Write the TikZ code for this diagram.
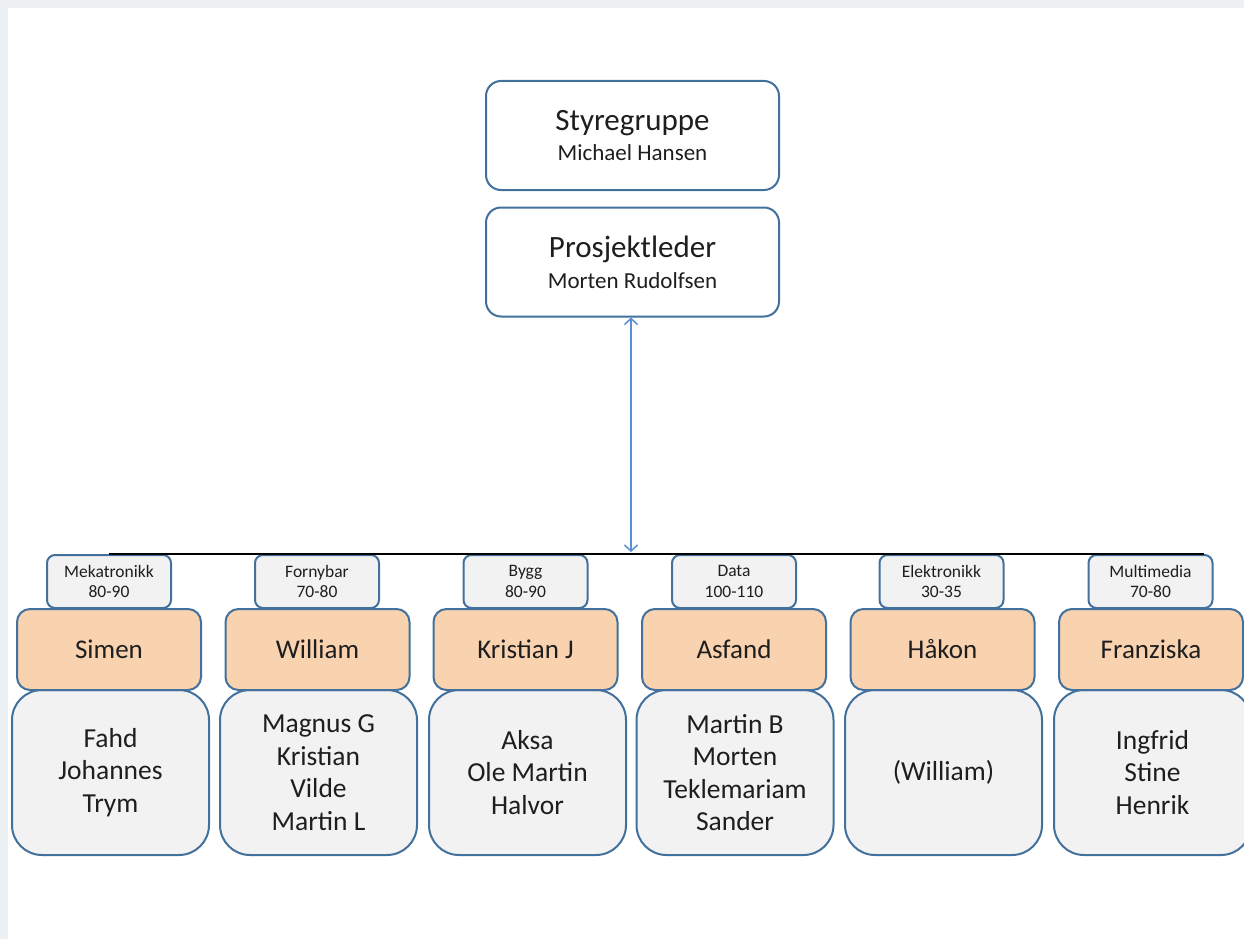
\documentclass[tikz,border=0pt]{standalone}
\usepackage{fontspec}
\setmainfont{Carlito}
\usetikzlibrary{arrows.meta}
\definecolor{bordblue}{HTML}{41719C}
\definecolor{arrblue}{HTML}{5B8FD4}
\definecolor{orangefill}{HTML}{F9D2B0}
\definecolor{grayfill}{HTML}{F2F2F2}
\definecolor{framegray}{HTML}{EDF1F4}
\definecolor{txt}{HTML}{1E1E1E}
\tikzset{
  topbox/.style={draw=bordblue, line width=2pt, fill=white, rounded corners=15pt,
    minimum width=293pt, minimum height=109pt, align=center, text=txt, inner sep=0pt},
  labelbox/.style={draw=bordblue, line width=2pt, fill=grayfill, rounded corners=8pt,
    minimum width=124pt, minimum height=53pt, align=center, text=txt, inner sep=0pt,
    font=\fontsize{17.5}{20.5}\selectfont},
  leadbox/.style={draw=bordblue, line width=2pt, fill=orangefill, rounded corners=13pt,
    minimum width=184pt, minimum height=81pt, align=center, text=txt, inner sep=0pt,
    font=\fontsize{27}{32}\selectfont},
  teambox/.style={draw=bordblue, line width=2pt, fill=grayfill, rounded corners=30pt,
    minimum width=197pt, minimum height=165pt, align=center, text=txt, inner sep=0pt,
    font=\fontsize{27.5}{32.5}\selectfont},
  linkarrow/.style={draw=arrblue, line width=1.5pt, {Straight Barb[length=6pt,width=13pt]}-{Straight Barb[length=6pt,width=13pt]}}
}
\begin{document}
\begin{tikzpicture}[x=1pt,y=-1pt]
\useasboundingbox (0,0) rectangle (1244,939);
\fill[framegray] (0,0) rectangle (1244,939);
\fill[white] (8,8) rectangle (1244,939);

\node[topbox, font=\fontsize{23}{30}\selectfont] (styre) at (632.5,135.5) {{\fontsize{31}{31}\selectfont Styregruppe}\\Michael Hansen};
\node[topbox, font=\fontsize{23}{31}\selectfont] (pl) at (632.5,262) {{\fontsize{31}{31}\selectfont Prosjektleder}\\Morten Rudolfsen};

% team boxes
\node[teambox] (t1) at (110.5,772.5) {Fahd\\Johannes\\Trym};
\node[teambox] (t2) at (318.5,772.5) {Magnus G\\Kristian\\Vilde\\Martin L};
\node[teambox] (t3) at (527.5,772.5) {Aksa\\Ole Martin\\Halvor};
\node[teambox] (t4) at (735,772.5) {Martin B\\Morten\\Teklemariam\\Sander};
\node[teambox] (t5) at (943.5,772.5) {(William)};
\node[teambox] (t6) at (1152.5,772.5) {Ingfrid\\Stine\\Henrik};

% leader boxes
\node[leadbox] (l1) at (109,649.5) {Simen};
\node[leadbox] (l2) at (317.5,649.5) {William};
\node[leadbox] (l3) at (525.5,649.5) {Kristian J};
\node[leadbox] (l4) at (734,649.5) {Asfand};
\node[leadbox] (l5) at (942.5,649.5) {Håkon};
\node[leadbox] (l6) at (1151,649.5) {Franziska};

% label boxes
\node[labelbox] (g1) at (109,581.5) {Mekatronikk\\80-90};
\node[labelbox] (g2) at (317,581.5) {Fornybar\\70-80};
\node[labelbox] (g3) at (525.5,581.5) {Bygg\\80-90};
\node[labelbox] (g4) at (734,581.5) {Data\\100-110};
\node[labelbox] (g5) at (941.5,581.5) {Elektronikk\\30-35};
\node[labelbox] (g6) at (1150.5,581.5) {Multimedia\\70-80};

% connectors
\coordinate (busL) at (109,554);
\coordinate (busR) at (1204,554);
\coordinate (busM) at (631,552);
\draw[black, line width=1.6pt] (busL) -- (busR);
\draw[linkarrow] (pl.south -| busM) -- (busM);
\end{tikzpicture}
\end{document}
